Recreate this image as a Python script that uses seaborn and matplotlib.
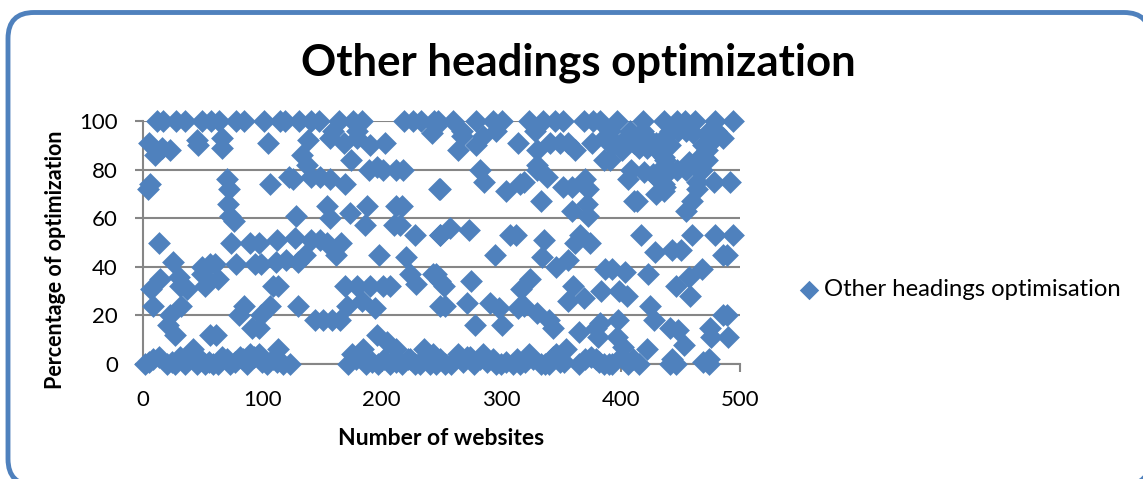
import matplotlib
matplotlib.use("Agg")
import matplotlib.pyplot as plt
import pandas as pd
import seaborn as sns
from matplotlib.patches import FancyBboxPatch
from matplotlib.transforms import Affine2D

# values, one band of the chart at a time
top_x = [12, 17, 28, 35, 49, 57, 64, 78, 85, 101, 115, 119, 131, 141, 147, 164, 176, 183, 219, 226, 233, 247,
         244, 260, 279, 293, 301, 323, 335, 345, 352, 369, 377, 383, 397, 419, 436, 447, 454, 462, 479, 494]
top_y = [100] * len(top_x)

high_x = [5, 16, 23, 10, 45, 46, 66, 66, 105, 138, 133, 137, 157, 168, 179, 190, 203, 174, 179, 159,
          245, 242, 267, 267, 264, 279, 285, 296, 314, 328, 330, 341, 349, 356, 362, 376, 388, 390, 401, 406,
          386, 391, 415, 422, 430, 436, 441, 455, 469, 480, 486, 472, 436]
high_y = [91, 89, 88, 86, 92, 90, 93, 89, 91, 92, 86, 82, 93, 91, 93, 90, 91, 84, 96, 96,
          98, 95, 96, 94, 88, 90, 94, 96, 91, 96, 88, 91, 91, 91, 88, 91, 94, 91, 88, 94,
          84, 84, 89, 92, 91, 93, 90, 96, 90, 96, 93, 84, 85]

dense_x = [408, 419, 425, 441, 448, 461, 472, 479, 472, 468, 391, 395, 411, 433, 437, 441, 455, 468, 427, 433, 437, 422]
dense_y = [96, 96, 92, 96, 96, 95, 95, 93, 88, 86, 96, 91, 91, 87, 84, 80, 80, 80, 78, 76, 73, 89]

upper_x = [70, 72, 71, 73, 76, 6, 4, 106, 122, 126, 141, 148, 157, 169, 189, 196, 201, 212, 218, 249,
           282, 286, 330, 330, 338, 319, 316, 304, 248, 333, 352, 359, 370, 373, 372, 359, 373,
           409, 406, 420, 433, 430, 436, 430, 447, 457, 466, 464, 464, 478, 492, 460, 455, 411, 414, 436]
upper_y = [76, 72, 66, 61, 59, 74, 72, 74, 77, 76, 77, 77, 76, 74, 80, 81, 80, 80, 80, 72,
           80, 75, 82, 80, 77, 75, 74, 71, 72, 67, 73, 73, 76, 72, 66, 63, 61,
           80, 76, 79, 80, 77, 74, 70, 80, 83, 80, 75, 72, 75, 75, 67, 63, 67, 67, 71]

mid_x = [154, 157, 173, 188, 212, 217, 128, 186, 210, 215, 228, 249, 13, 74, 90, 97, 112, 127, 141, 148,
         154, 166, 162, 198, 220, 25,
         249, 257, 273, 295, 307, 312, 336, 334, 346, 356, 366, 362, 374, 417, 429, 443, 451, 460, 479, 494,
         486, 489]
mid_y = [65, 60, 62, 65, 65, 65, 61, 57, 57, 57, 53, 53, 50, 50, 50, 50, 51, 52, 51, 51,
         50, 50, 45, 45, 44, 42,
         53, 56, 55, 45, 53, 53, 51, 44, 40, 43, 53, 50, 50, 53, 46, 47, 47, 53, 53, 53,
         45, 45]

lower_x = [49, 56, 60, 49, 63, 52, 78, 94, 99, 111, 120, 130, 136, 224, 229, 243, 249, 14, 7, 30, 31, 37,
           109, 113, 169, 179, 190, 201, 207,
           245, 252, 275, 324, 317, 387, 393, 404, 423, 446, 457, 468, 384, 399, 405, 458, 360, 356, 369]
lower_y = [40, 41, 41, 37, 35, 32, 41, 41, 41, 42, 43, 42, 45, 37, 33, 37, 34, 35, 31, 36, 32, 31,
           32, 32, 32, 32, 32, 32, 32,
           37, 32, 34, 35, 31, 39, 39, 38, 37, 32, 36, 39, 30, 30, 28, 28, 32, 26, 27]

low_x = [8, 32, 23, 21, 27, 56, 61, 85, 80, 106, 99, 91, 97, 130, 144, 151, 158, 171, 165, 183, 194, 249,
         196, 204, 212, 184, 175, 235, 224, 243, 113,
         253, 271, 291, 298, 314, 319, 330, 340, 343, 278, 301, 425, 428, 486, 489,
         365, 383, 379, 381, 398, 397, 402, 441, 448, 453, 475, 476, 490, 422, 354]
low_y = [24, 24, 20, 16, 12, 12, 12, 24, 20, 24, 20, 15, 15, 24, 18, 18, 18, 24, 18, 26, 23, 24,
         12, 9, 6, 6, 4, 6, 2, 4, 6,
         24, 25, 25, 23, 23, 24, 21, 18, 15, 16, 16, 24, 18, 20, 20,
         13, 17, 15, 11, 18, 11, 7, 15, 14, 8, 15, 11, 11, 6, 6]

zero_x = [2, 13, 20, 27, 31, 35, 42, 45, 52, 66, 59, 73, 81, 90, 97, 104, 87, 123, 117, 172, 187, 197, 207, 217, 232, 240,
          245, 253, 264, 271, 277, 285, 293, 300, 310, 316, 323, 333, 346, 340, 349, 365, 379, 386, 393, 406, 415,
          443, 441, 446, 469, 474, 474,
          5, 8, 24, 38, 48, 55, 63, 70, 77, 84, 93, 100, 109, 112, 178, 183, 192, 202, 212, 222, 228, 236,
          249, 258, 268, 274, 282, 288, 296, 304, 313, 320, 327, 337, 343, 353, 370, 375, 382, 390, 400, 410]
zero_y = [0, 3, 0, 0, 3, 0, 6, 0, 0, 3, 0, 0, 3, 4, 4, 0, 0, 0, 0, 0, 0, 0, 0, 0, 0, 0,
          0, 0, 4, 3, 0, 4, 2, 0, 0, 0, 4, 0, 4, 0, 1, 0, 2, 0, 0, 0, 0,
          2, 0, 0, 1, 2, 0,
          1, 2, 1, 3, 2, 1, 0, 2, 1, 2, 3, 1, 2, 1, 2, 3, 1, 2, 1, 2, 0, 3,
          2, 0, 1, 3, 2, 1, 0, 1, 2, 1, 2, 0, 3, 1, 2, 3, 1, 0, 3, 2]

x_ticks = [0, 100, 200, 300, 400, 500]
y_ticks = [0, 20, 40, 60, 80, 100]

blue = "#4F81BD"
grey = "#868686"

df = pd.DataFrame({
    "sites": top_x + high_x + dense_x + upper_x + mid_x + lower_x + low_x + zero_x,
    "optimization": top_y + high_y + dense_y + upper_y + mid_y + lower_y + low_y + zero_y,
})

sns.set_theme(style="white")
plt.rcParams["font.family"] = ["Lato", "DejaVu Sans"]

fig = plt.figure(figsize=(11.43, 4.79), dpi=100)
ax = fig.add_axes([143 / 1143, 1 - 364 / 479, (740 - 143) / 1143, (364 - 121) / 479])
ax.patch.set_visible(False)

sns.scatterplot(data=df, x="sites", y="optimization", ax=ax, marker="D", s=135, color=blue,
                linewidth=0, clip_on=False, zorder=3, label="Other headings optimisation")

ax.set_xlim(0, 500)
ax.set_ylim(0, 100)
ax.set_xticks(x_ticks)
ax.set_yticks(y_ticks)
ax.tick_params(axis="both", length=6, width=1.5, color=grey, labelsize=16, labelcolor="black", left=True, bottom=True)
ax.tick_params(axis="x", pad=13)
ax.tick_params(axis="y", pad=12)
ax.grid(axis="y", color=grey, linewidth=1.5)
ax.set_axisbelow(True)
sns.despine(ax=ax)
for side in ["left", "bottom"]:
    ax.spines[side].set_color(grey)
    ax.spines[side].set_linewidth(1.5)

ax.set_xlabel("Number of websites", fontsize=16.5, fontweight="bold", color="black", va="center")
ax.set_ylabel("Percentage of optimization", fontsize=15.5, fontweight="bold", color="black", va="center")
ax.xaxis.set_label_coords(0.4992, -0.305)
ax.yaxis.set_label_coords(-0.146, 0.428)

leg = ax.legend(loc="center left", bbox_to_anchor=(1.096, 0.305), frameon=False, fontsize=17.2,
                handlelength=1, handletextpad=0.1, borderpad=0, borderaxespad=0, markerscale=0.85)
for t in leg.get_texts():
    t.set_color("black")

fig.text(578 / 1143, 1 - 63 / 479, "Other headings optimization", ha="center", va="center",
         fontsize=31.5, fontweight="bold", color="black")

# rounded frame runs off the right and bottom of the picture
frame = FancyBboxPatch((8, 12.5), 1142, 472.5, boxstyle="round,pad=0,rounding_size=26",
                       transform=Affine2D().scale(1, -1).translate(0, 479),
                       facecolor="white", edgecolor=blue, linewidth=3.5, zorder=-1)
fig.add_artist(frame)

fig.savefig("out.png", dpi=100)
